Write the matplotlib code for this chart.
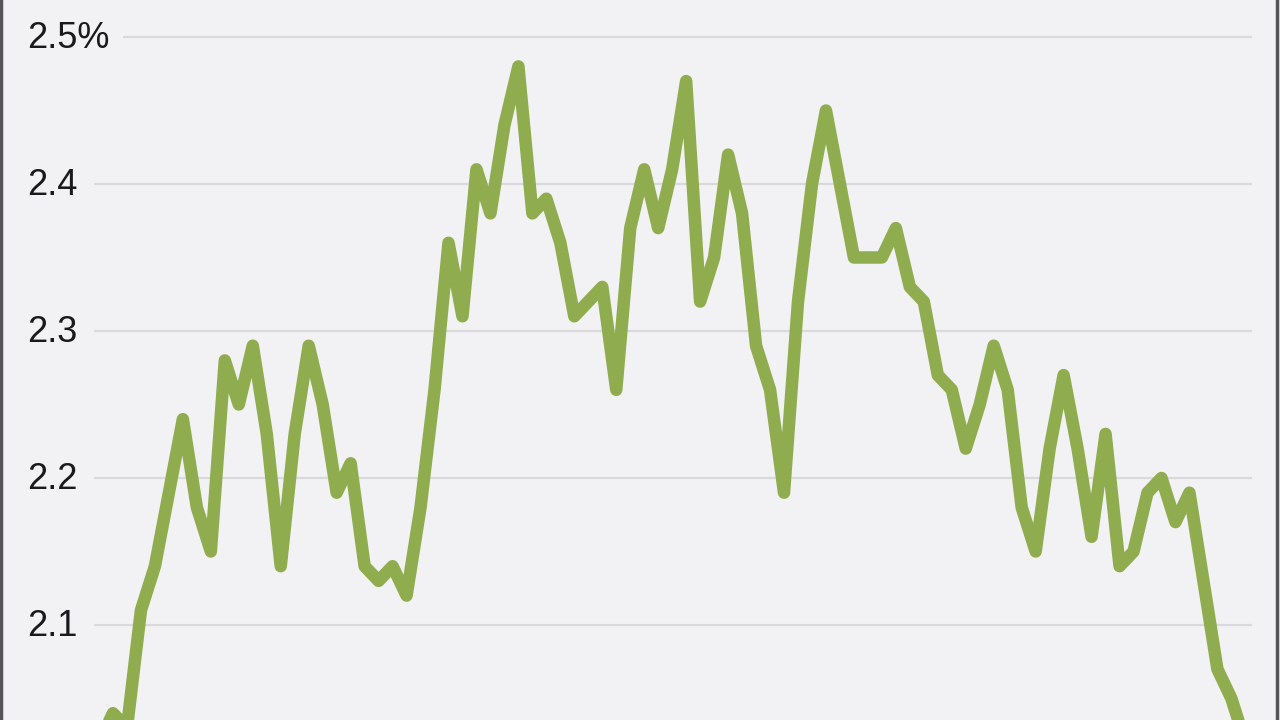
import matplotlib
matplotlib.use("Agg")
import matplotlib.pyplot as plt

# monthly values (percent)
values = [2.02, 2.04, 2.03, 2.11, 2.14, 2.19, 2.24, 2.18, 2.15, 2.28,
          2.25, 2.29, 2.23, 2.14, 2.23, 2.29, 2.25, 2.19, 2.21, 2.14,
          2.13, 2.14, 2.12, 2.18, 2.26, 2.36, 2.31, 2.41, 2.38, 2.44,
          2.48, 2.38, 2.39, 2.36, 2.31, 2.32, 2.33, 2.26, 2.37, 2.41,
          2.37, 2.41, 2.47, 2.32, 2.35, 2.42, 2.38, 2.29, 2.26, 2.19,
          2.32, 2.40, 2.45, 2.40, 2.35, 2.35, 2.35, 2.37, 2.33, 2.32,
          2.27, 2.26, 2.22, 2.25, 2.29, 2.26, 2.18, 2.15, 2.22, 2.27,
          2.22, 2.16, 2.23, 2.14, 2.15, 2.19, 2.20, 2.17, 2.19, 2.13,
          2.07, 2.05, 2.02]
months = list(range(len(values)))

tick_values = [2.1, 2.2, 2.3, 2.4, 2.5]
tick_labels = ["2.1", "2.2", "2.3", "2.4", "2.5%"]

bg = "#f2f2f4"
green = "#8fad4f"

fig = plt.figure(figsize=(12.8, 7.2), dpi=100)
fig.patch.set_facecolor(bg)
ax = fig.add_axes([0, 0, 1, 1])
ax.set_facecolor(bg)

step = 13.98  # pixels per month
x0 = 99       # pixel of first point
ax.set_xlim(-x0 / step, (1280 - x0) / step)
ax.set_ylim(2.5 - 683 / 1470, 2.5 + 37 / 1470)
ax.axis("off")

# gridlines start just right of the labels
for v, lab in zip(tick_values, tick_labels):
    gx = 123 if lab.endswith("%") else 94
    ax.hlines(v, (gx - x0) / step, (1252 - x0) / step, color="#dadadd", lw=1.6, zorder=1)
    ax.text((27 - x0) / step, v - 0.001, lab, ha="left", va="center", fontsize=26,
            family=["Liberation Sans", "DejaVu Sans"], color="#1a1a1a")

ax.plot(months, values, color=green, lw=9, solid_joinstyle="round",
        solid_capstyle="round", zorder=3)

# thin dark frame on the left and right edges
fig.add_artist(plt.Line2D([0.001, 0.001], [0, 1], color="#555555", lw=2.5))
fig.add_artist(plt.Line2D([0.9975, 0.9975], [0, 1], color="#555555", lw=2.5))

fig.savefig("out.png", dpi=100, facecolor=bg)
